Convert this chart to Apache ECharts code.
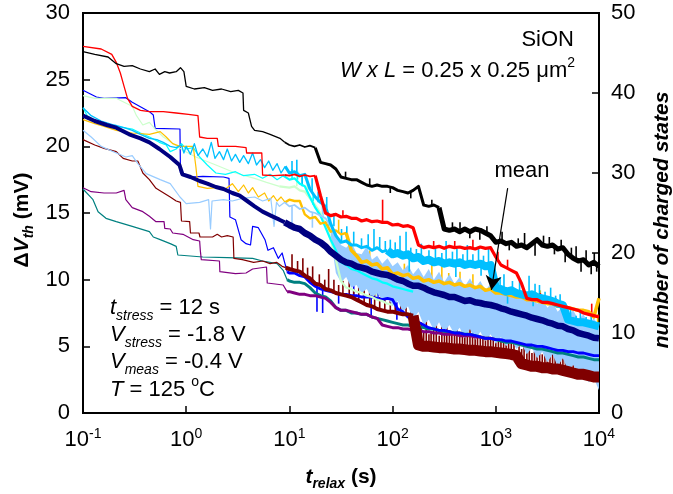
<!DOCTYPE html>
<html>
<head>
<meta charset="utf-8">
<script src="https://cdn.jsdelivr.net/npm/echarts@6/dist/echarts.min.js"></script>
<style>
html,body{margin:0;padding:0;background:#fff;}
#chart{width:673px;height:494px;}
</style>
</head>
<body>
<div id="chart"></div>
<script>
// Relaxation time samples (s) shared by the long-time part of every trace
const tGrid = [10,11.2,12.6,14.1,15.8,17.8,20,22.4,25.1,28.2,31.6,35.5,39.8,44.7,50.1,56.2,63.1,70.8,79.4,89.1,
  100,112,126,141,158,178,200,224,251,282,316,355,398,447,501,562,631,708,794,891,
  1000,1122,1259,1413,1585,1778,1995,2239,2512,2818,3162,3548,3981,4467,5012,5623,6310,7079,7943,8913,10000];

// Per-device ΔVth traces (mV): early part as [t, v] pairs, later level on tGrid,
// plus short telegraph-noise excursions as [t, from, to]
const blackEarly = [[0.1,27.1],[0.13,26.9],[0.175,26.7],[0.21,26.2],[0.25,26.0],[0.3,26.05],[0.36,25.8],[0.44,25.6],[0.5,25.8],[0.55,25.4],[0.62,25.6],[0.69,25.5],[0.8,25.6],[0.88,25.9],[0.95,25.6],[1.0,24.5],[1.2,24.3],[1.5,24.4],[1.8,24.2],[2.2,24.3],[2.7,24.1],[3.2,24.2],[3.55,24.0],[3.6,22.7],[4.0,22.5],[4.3,21.5],[4.6,21.2],[5.5,21.1],[6.5,20.9],[8.1,20.6],[9,20.3]];
const blackLate = [20.1,20.0,20.1,19.95,20.05,19.9,18.8,18.7,18.6,18.3,17.7,17.6,17.5,17.5,17.3,17.1,17.0,17.1,17.0,17.0,
  16.9,16.7,16.6,16.5,16.7,17.0,15.6,15.5,15.6,15.4,13.8,13.7,13.8,13.6,13.8,13.6,13.8,13.7,13.5,13.3,
  12.8,12.9,12.7,12.8,12.5,12.6,12.4,12.7,13.0,12.6,12.5,12.6,12.3,12.4,11.9,11.6,11.4,11.5,11.1,11.3,11.0];
const blackSpikes = [[35,17.6,18.1],[60,17.0,17.6],[95,17.0,16.5],[150,16.6,16.1],[240,15.5,16.0],[380,13.7,14.3],[450,13.7,14.3],[560,13.6,13.1],[700,13.7,13.0],[820,13.4,14.0],
  [1150,12.9,13.6],[1350,12.8,12.2],[1650,12.5,13.1],[1900,12.4,13.5],[2400,12.7,11.8],[2900,12.6,13.3],[3300,12.6,13.2],[3700,12.5,11.9],[4300,12.4,13.0],[4700,12.0,11.3],
  [5400,11.7,12.4],[6000,11.5,12.5],[6700,11.4,10.6],[7500,11.4,12.2],[8400,11.1,10.4],[9000,11.3,12.0],[9500,11.2,10.6]];

const redEarly = [[0.1,27.5],[0.15,27.3],[0.19,26.9],[0.21,26.3],[0.23,25.5],[0.25,24.5],[0.27,23.6],[0.3,23.0],[0.36,22.7],[0.44,22.6],[0.6,22.6],[0.8,22.5],[1.05,22.4],[1.3,22.3],[1.35,20.7],[1.6,20.6],[2.0,20.6],[2.05,20.0],[3.0,20.0],[3.8,19.9],[3.85,19.5],[5.4,19.5],[5.5,17.85],[7,17.8],[9,17.85]];
const redLate = [17.8,17.9,17.75,17.85,17.75,17.8,16.3,15.0,14.8,14.9,14.7,14.75,14.6,14.6,14.4,14.5,14.35,14.4,14.3,14.3,
  14.1,14.15,14.0,14.05,13.9,12.6,12.4,12.5,12.4,12.5,12.35,12.5,12.4,12.45,12.35,12.4,12.3,12.45,12.35,12.4,
  11.7,11.1,10.9,10.7,10.5,9.7,8.6,8.5,8.5,8.3,8.3,8.2,8.1,8.0,7.9,7.8,7.7,7.5,7.4,7.3,7.2];
const redSpikes = [[33,14.7,15.2],[80,14.3,16.0],[250,12.4,12.9],[400,12.4,12.9],[600,12.3,13.0],[1050,11.5,12.1],[1300,10.9,11.5],[2700,8.4,9.0],[3800,8.1,8.6],[8500,7.4,8.2]];

const skyEarly = [[0.1,22.9],[0.12,22.3],[0.15,21.9],[0.2,21.6],[0.25,21.4],[0.3,21.2],[0.36,20.9],[0.44,20.6],[0.52,20.5],[0.6,20.3],[0.7,20.0],[0.8,19.9],[0.9,20.1],[0.95,19.5],[1.0,20.0],[1.1,19.4],[1.2,20.2],[1.3,19.3],[1.45,19.8],[1.6,19.2],[1.75,20.3],[1.9,19.1],[2.1,19.6],[2.3,19.0],[2.5,19.8],[2.75,18.9],[3.0,19.4],[3.3,18.8],[3.6,19.3],[4.0,18.7],[4.4,19.5],[4.8,18.6],[5.25,19.0],[5.75,18.4],[6.3,18.9],[6.9,18.2],[7.6,18.7],[8.3,18.0],[9.1,18.5]];
const skyLate = [18.0,18.1,17.8,17.9,16.8,16.2,15.8,15.5,14.2,13.3,12.8,12.9,12.6,12.6,12.4,12.5,12.2,12.4,12.1,12.2,
  11.9,12.0,11.8,11.9,11.6,11.7,11.4,11.5,11.3,11.4,11.2,11.3,11.2,11.3,11.1,11.2,11.1,11.2,11.0,11.1,
  9.4,9.3,9.1,9.2,9.0,8.9,8.8,8.9,8.7,8.6,8.5,8.4,8.2,8.1,7.0,6.9,6.8,6.8,6.7,6.6,6.5];
const skySpikes = [[10.6,18.0,18.9],[11.8,18.0,19.0],[13.3,17.9,17.0],[16.6,16.5,17.6],[19,15.8,16.6],[23,15.4,16.2],[27,14.0,15.0],[32,12.8,13.8],[36,12.9,14.0],[42,12.6,13.6],
  [50,12.4,13.1],[58,12.5,13.4],[66,12.3,13.8],[75,12.3,13.2],[85,12.2,12.9],[95,12.0,13.0],[106,12.0,12.8],[118,11.9,13.3],[135,11.9,13.6],[145,11.6,10.6],[150,11.6,12.4],
  [170,11.7,12.3],[190,11.5,12.7],[225,11.4,12.2],[260,11.3,12.4],[300,11.3,12.0],[330,11.2,12.9],[380,11.2,12.1],[410,11.1,10.2],[420,11.2,12.3],[480,11.1,11.9],[530,11.2,12.6],
  [600,11.1,11.9],[680,11.1,12.5],[720,11.0,10.3],[760,11.0,11.8],[850,11.0,12.3],[1100,9.3,10.2],[1200,9.2,10.4],[1300,9.1,8.2],[1450,9.1,9.9],[1700,8.9,10.0],[2100,8.8,10.3],[2300,8.8,8.0],[2400,8.9,9.7],
  [2650,8.7,9.6],[3000,8.5,9.1],[3400,8.4,9.4],[3800,8.2,8.8],[4200,8.1,8.9],[5300,6.9,7.8],[6000,6.8,7.3],[6600,6.8,7.6],[7500,6.7,7.2],[8400,6.6,7.4]];

const aquaEarly = [[0.1,22.9],[0.11,22.3],[0.13,21.9],[0.16,21.7],[0.21,21.5],[0.3,21.3],[0.36,21.0],[0.44,20.7],[0.55,20.3],[0.64,20.1],[0.7,19.6],[0.8,19.8],[0.9,20.2],[1.0,19.8],[1.17,19.9],[1.35,19.2],[1.6,18.6],[1.94,18.0],[2.4,17.9],[3.0,18.1],[3.6,17.8],[4.6,17.9],[5.5,17.6],[6.5,17.9],[7.6,17.5],[8.7,17.8]];
const aquaLate = [17.5,17.6,17.2,17.0,16.2,15.4,14.8,13.9,13.0,12.2,11.3,11.1,10.8,10.7,10.5,10.3,10.1,10.0,9.8,9.7,9.5,9.4,9.3,9.2,9.1];
const aquaSpikes = [[10.6,17.5,18.3],[12.0,17.5,18.1],[13.3,17.1,17.8],[17,15.6,16.4],[21,14.5,15.6],[24,13.6,14.8],[30,11.7,13.0],[38,10.9,12.0],[55,10.4,11.4]];

const greenEarly = [[0.1,23.8],[0.13,23.6],[0.21,23.6],[0.25,23.3],[0.3,23.0],[0.33,22.3],[0.38,21.6],[0.44,21.8],[0.5,21.3],[0.6,20.7],[0.75,20.2],[0.93,19.7],[1.24,19.2],[1.94,18.6],[3.0,18.0],[4.6,17.6],[6,17.3],[8,17.0]];
const greenLate = [16.9,17.0,16.7,16.6,16.1,15.6,15.0,14.2,13.0,11.5,9.9,9.4,9.3,9.1,9.0,8.8,8.7,8.5,8.4,8.2,8.1];
const greenSpikes = [[11.8,17.0,17.8],[14.9,16.3,17.3],[33,9.9,10.8],[48,9.1,10.0],[70,8.5,9.4]];

const goldEarly = [[0.1,22.0],[0.13,21.7],[0.16,21.5],[0.21,21.2],[0.3,21.0],[0.44,20.9],[0.56,21.1],[0.64,20.7],[0.74,20.2],[0.87,20.0],[1.17,20.0],[1.24,18.5],[1.3,17.0],[1.6,16.85],[2.0,16.9],[2.4,16.8],[2.8,17.2],[3.2,16.6],[3.6,17.1],[4.0,16.5],[4.4,16.9],[5,16.2],[5.75,16.5],[6.3,15.9],[7,16.3],[7.6,15.9],[8.3,16.2],[9.1,15.8]];
const goldLate = [16.0,15.9,15.9,14.9,14.6,14.7,14.2,14.3,13.6,13.7,13.4,13.5,12.2,11.8,11.3,11.4,11.1,11.2,10.8,10.9,
  10.4,10.5,10.3,10.4,10.1,10.2,9.9,10.0,9.8,9.9,9.7,9.8,9.6,9.7,9.5,9.6,9.4,9.5,9.2,9.3,
  9.0,9.0,8.9,8.8,8.7,8.7,8.5,8.5,8.4,8.3,8.2,8.2,8.0,8.0,7.9,7.8,7.7,7.7,7.6,7.2,8.6];
const goldSpikes = [[30,13.5,14.5],[60,11.3,12.2],[130,10.3,11.2],[240,9.9,11.1],[300,9.9,11.0],[350,9.8,10.5],[450,9.7,10.6],[600,9.5,10.4],[2700,8.4,9.2],[9700,7.4,6.5]];

const paleEarly = [[0.1,21.2],[0.12,20.7],[0.15,20.0],[0.21,19.5],[0.26,19.2],[0.3,19.3],[0.34,18.7],[0.41,17.95],[0.56,17.5],[0.7,17.2],[0.87,16.2],[1.0,15.7],[1.35,15.8],[1.65,16.0],[1.72,13.8],[1.78,15.9],[2.3,16.0],[2.8,15.9],[3.5,16.1],[4.6,16.2],[5.5,15.9],[6.6,16.1],[7.1,14.0],[7.5,15.8],[8.0,15.5],[9.0,15.8]];
const paleLate = [15.5,15.6,15.3,15.4,15.1,15.0,14.8,14.6,14.0];
const paleSpikes = [[10.6,15.5,14.2],[16.7,15.0,13.9],[21,14.8,15.6]];
// upper / lower envelope of the same device from tGrid[8] on
const paleHi = [14.2,13.6,12.6,12.4,12.8,12.0,11.9,12.5,11.5,11.8,11.2,11.6,11.0,11.3,10.7,11.1,10.4,10.9,10.2,10.8,
  10.0,10.6,9.8,10.4,9.7,10.2,9.5,10.1,9.4,9.9,9.2,9.7,9.0,9.5,8.8,9.3,8.6,9.0,8.4,8.8,
  8.2,8.6,7.9,8.3,7.6,8.0,7.3,7.7,7.0,7.4,6.7,7.1,6.5];
const paleLo = [13.2,10.5,9.8,10.2,9.4,9.6,9.0,9.3,8.6,9.0,8.5,8.7,8.0,8.4,7.6,8.0,7.0,7.6,6.6,7.0,
  6.2,6.8,6.0,6.6,5.9,6.4,5.6,6.3,5.5,6.1,5.4,5.9,5.2,5.7,5.0,5.5,4.8,5.2,4.4,4.9,
  4.1,4.6,3.8,4.4,3.5,4.1,3.2,3.6,2.9,3.2,2.3,2.6,1.7];
const paleBandStart = 8;

const maroonEarly = [[0.1,20.5],[0.13,20.1],[0.16,19.85],[0.21,19.6],[0.245,19.1],[0.3,18.9],[0.34,18.9],[0.38,18.0],[0.44,17.5],[0.51,16.85],[0.7,16.2],[0.8,15.9],[0.88,15.8],[0.9,14.4],[1.08,14.35],[1.1,13.5],[1.33,13.5],[1.36,13.2],[1.8,13.2],[2.0,13.4],[2.2,13.2],[2.5,13.3],[2.85,13.2],[2.9,11.6],[3.5,11.5],[4.5,11.3],[5.5,11.4],[6.5,11.2],[7.5,11.3],[8.5,11.0],[9.2,10.9]];
const maroonLate = [10.8,10.7,10.6,10.3,10.1,9.7,9.6,9.3,9.2,9.0,8.9,8.8,8.7,8.5,8.3,8.1,8.0,7.8,7.7,7.6,
  7.6,7.5,7.4,7.4,7.3,5.1,5.0,5.0,4.95,4.9,4.9,4.85,4.8,4.8,4.75,4.7,4.7,4.65,4.6,4.6,
  4.55,4.5,4.45,4.4,4.3,3.7,3.6,3.5,3.5,3.4,3.4,3.3,3.3,3.2,3.1,3.0,2.9,2.9,2.8,2.7,2.7];
const maroonSpikes = [[10.6,10.8,11.9],[12,10.7,11.4],[13.5,10.4,11.6],[15,10.2,10.9],[16.8,10.0,11.0],[19.5,9.6,10.4],[22,9.4,10.0],[24,9.2,10.8],[27,9.1,10.0],[30,9.0,9.6],
  [33,8.9,9.9],[38,8.8,10.2],[42,8.6,9.3],[47,8.5,9.6],[53,8.3,9.3],[60,8.1,9.5],[67,8.0,9.0],[75,7.8,8.7],[84,7.7,9.0],[95,7.6,8.4],[106,7.5,8.8],[120,7.4,8.3],[135,7.4,8.0],[150,7.3,8.5],[165,7.3,7.9],
  [190,5.2,6.8],[200,5.0,6.0],[212,5.0,7.2],[225,5.0,5.9],[236,5.0,6.1],[250,4.9,6.4],[265,4.9,7.0],[283,4.9,5.8],[300,4.9,6.5],[318,4.8,6.0],
  [335,4.8,7.2],[355,4.8,6.2],[375,4.8,5.9],[398,4.7,6.4],[420,4.7,6.8],[447,4.7,5.8],[475,4.7,6.2],[501,4.6,6.0],[530,4.6,7.1],[562,4.6,6.3],
  [595,4.6,6.0],[631,4.5,5.9],[665,4.5,6.6],[708,4.5,5.7],[750,4.5,5.8],[794,4.4,6.4],[840,4.4,6.5],[891,4.4,5.6],[945,4.4,5.7],[1000,4.4,6.0],
  [1060,4.3,6.3],[1122,4.3,5.4],[1190,4.3,5.5],[1259,4.3,5.8],[1330,4.2,6.8],[1413,4.2,5.5],[1500,4.1,5.6],[1680,3.6,5.0],[1780,3.5,4.8],[1880,3.5,6.0],
  [2000,3.5,4.6],[2110,3.4,5.3],[2240,3.4,4.5],[2370,3.4,4.6],[2510,3.3,5.2],[2660,3.3,5.9],[2820,3.3,4.4],[2990,3.3,4.8],[3160,3.2,4.2],[3350,3.2,4.3],
  [3550,3.2,5.0],[3760,3.1,6.0],[3980,3.1,4.1],[4220,3.0,4.4],[4470,3.0,4.7],[4730,3.0,4.0],[5010,2.9,4.5],[5310,2.9,5.4],[5620,2.8,3.8],[5950,2.8,3.9],
  [6310,2.8,4.8],[6680,2.8,4.6],[7080,2.7,3.7],[7500,2.7,3.6],[7940,2.7,4.5],[8400,2.6,4.2],[8910,2.6,3.7],[9400,2.6,3.4]];

const blueEarly = [[0.1,24.2],[0.135,23.7],[0.16,23.6],[0.26,23.65],[0.3,23.3],[0.44,22.6],[0.48,22.35],[0.5,21.35],[0.87,21.3],[0.88,18.0],[1.1,17.7],[1.45,17.75],[2.3,17.7],[2.6,17.6],[2.65,14.7],[3.0,14.5],[3.4,13.0],[3.8,12.7],[4.2,12.6],[4.4,14.0],[5.0,13.9],[5.8,13.0],[6.2,12.2],[7.0,12.4],[7.8,11.6],[8.5,12.0],[9.5,10.6]];
const blueLate = [10.5,10.5,10.3,10.2,9.8,9.5,9.3,9.2,9.1,9.0,8.9,8.9,8.8,8.8,8.7,8.7,8.7,8.6,8.5,8.6,
  8.5,7.8,7.6,7.2,7.0,6.8,6.6,6.4,6.3,6.2,6.2,6.1,6.0,6.0,5.9,5.9,5.8,5.7,5.6,5.6,
  5.5,5.5,5.4,5.4,5.3,5.2,5.1,5.1,5.0,5.0,4.9,4.8,4.7,4.7,4.6,4.6,4.5,4.5,4.4,4.3,4.3];
const blueSpikes = [[18.5,9.4,7.6],[21,9.3,7.5],[30,9.0,8.2],[42,8.8,9.6],[62,8.7,7.2],[72,8.6,9.4],[110,8.3,7.0]];

const purpleEarly = [[0.1,16.9],[0.12,16.6],[0.16,16.5],[0.21,16.5],[0.25,16.7],[0.26,16.0],[0.3,15.4],[0.38,15.1],[0.44,14.75],[0.51,14.35],[0.61,14.35],[0.62,13.85],[0.7,13.8],[0.74,13.5],[0.93,13.4],[1.17,13.0],[1.35,12.9],[1.37,12.2],[1.4,11.5],[2.1,11.4],[2.12,10.6],[3.0,10.45],[3.8,10.5],[4.4,10.8],[6.0,10.95],[6.1,9.75],[8.7,9.6],[9.5,9.1]];
const purpleLate = [9.1,9.0,8.9,8.9,8.8,8.8,8.7,8.6,8.3,7.9,7.7,7.7,7.6,7.5,7.4,7.4,7.2,7.1,6.6,6.5,
  6.4,6.4,6.3,6.3,6.2,6.2,6.1,6.1,6.0,6.0,5.9,5.9,5.9,5.8,5.8,5.8,5.7,5.7,5.6,5.6,5.5];

const tealEarly = [[0.1,16.8],[0.115,16.3],[0.125,16.0],[0.14,15.1],[0.167,14.6],[0.21,14.35],[0.3,14.0],[0.44,13.6],[0.48,13.2],[0.56,13.0],[0.7,12.7],[0.8,12.5],[0.83,11.85],[1.45,11.7],[2.5,11.65],[4.4,11.6],[5.5,11.4],[7.6,11.2],[8.7,10.7],[9.5,10.0]];
const tealLate = [9.9,9.8,9.8,9.7,9.4,9.0,8.8,8.7,8.4,7.9,7.7,7.7,7.5,7.5,7.4,7.4,7.2,7.1,7.0,6.9,
  6.8,6.7,6.6,6.6,6.5,6.5,6.4,6.3,6.3,6.2,6.1,6.1,6.0,6.0,5.9,5.9,5.8,5.7,5.6,5.6,
  5.5,5.4,5.3,5.3,5.2,5.1,5.0,4.9,4.8,4.8,4.7,4.6,4.5,4.5,4.4,4.3,4.2,4.2,4.1,4.0,4.0];

// Mean over all devices
const meanEarly = [[0.1,22.3],[0.13,21.9],[0.17,21.6],[0.21,21.4],[0.28,20.9],[0.36,20.6],[0.44,20.3],[0.55,19.8],[0.7,19.2],[0.86,18.6],[0.92,17.9],[1.1,17.7],[1.35,17.4],[1.6,17.2],[1.94,16.95],[2.3,16.8],[2.8,16.5],[3.3,16.3],[3.9,15.9],[4.6,15.5],[5.5,15.1],[6.6,14.8],[8,14.5],[9,14.3]];
const meanLate = [14.1,13.9,13.8,13.5,13.3,13.0,12.8,12.5,12.1,11.8,11.5,11.3,11.2,11.0,10.9,10.8,10.6,10.5,10.4,10.35,
  10.2,10.0,9.9,9.7,9.55,9.55,9.4,9.2,9.05,8.95,8.85,8.7,8.7,8.55,8.4,8.45,8.3,8.25,8.15,8.1,
  8.0,7.85,7.75,7.6,7.5,7.4,7.3,7.15,7.05,6.95,6.8,6.7,6.55,6.5,6.3,6.2,6.0,5.9,5.8,5.65,5.6];

// Annotation arrow for the mean curve: [t, mV] start and end
const meanArrow = [[1303, 16.86], [906, 9.23]];

const FONT = '"Liberation Sans", Arial, Helvetica, sans-serif';

function onGrid(values, start) {
  return values.map((v, i) => [tGrid[start + i], v]);
}
function lineSeries(name, color, data, width) {
  return {
    name: name, type: 'line', data: data, yAxisIndex: 0,
    showSymbol: false, symbol: 'none', silent: true, animation: false,
    emphasis: { disabled: true },
    lineStyle: { color: color, width: width, join: 'round' },
    itemStyle: { color: color }
  };
}
// consecutive stretches of one trace, each with its own stroke weight
function pieces(name, color, parts) {
  const out = [];
  let prev = null;
  parts.forEach((p, k) => {
    out.push(lineSeries(name + k, color, prev ? [prev].concat(p[0]) : p[0], p[1]));
    prev = p[0][p[0].length - 1];
  });
  return out;
}
// short vertical excursions of a trace
function spikeSeries(name, color, spikes, width) {
  return {
    name: name, type: 'custom', coordinateSystem: 'cartesian2d', data: spikes,
    encode: { x: 0, y: [1, 2] }, silent: true, animation: false,
    renderItem: function (params, api) {
      const a = api.coord([api.value(0), api.value(1)]);
      const b = api.coord([api.value(0), api.value(2)]);
      return { type: 'line', shape: { x1: a[0], y1: a[1], x2: b[0], y2: b[1] }, style: { stroke: color, lineWidth: width } };
    }
  };
}

const paleBand = paleHi.map((h, i) => [tGrid[paleBandStart + i], paleLo[i], h]);

const meanParts = pieces('mean', '#000080', [[meanEarly, 4], [onGrid(meanLate, 0), 6.5]]);
meanParts[1].markLine = {
  silent: true, animation: false,
  symbol: ['none', 'arrow'], symbolSize: [12, 14],
  label: { show: false },
  lineStyle: { color: '#000', width: 1.2, type: 'solid' },
  data: [[{ coord: meanArrow[0] }, { coord: meanArrow[1] }]]
};

const series = [].concat(
  pieces('teal', '#008080', [[tealEarly, 1.2], [onGrid(tealLate, 0), 3]]),
  pieces('purple', '#800080', [[purpleEarly, 1.2], [onGrid(purpleLate, 0), 3]]),
  pieces('blue', '#0000ff', [[blueEarly, 1.2], [onGrid(blueLate, 0), 2.8]]),
  spikeSeries('blueSpk', '#0000ff', blueSpikes, 1.6),
  pieces('maroon', '#800000', [[maroonEarly, 1.2], [onGrid(maroonLate.slice(0, 25), 0), 4], [onGrid(maroonLate.slice(25), 25), 11]]),
  spikeSeries('maroonSpk', '#800000', maroonSpikes, 1.6),
  pieces('green', '#ccffcc', [[greenEarly, 1.2], [onGrid(greenLate, 0), 2.2]]),
  spikeSeries('greenSpk', '#ccffcc', greenSpikes, 1.6),
  pieces('aqua', '#00ffff', [[aquaEarly, 1.2], [onGrid(aquaLate, 0), 2.2]]),
  spikeSeries('aquaSpk', '#00ffff', aquaSpikes, 1.6),
  pieces('gold', '#ffc000', [[goldEarly, 1.2], [onGrid(goldLate.slice(0, 12), 0), 2.4], [onGrid(goldLate.slice(12), 12), 3.5]]),
  spikeSeries('goldSpk', '#ffc000', goldSpikes, 1.6),
  pieces('pale', '#99ccff', [[paleEarly, 1.2], [onGrid(paleLate, 0), 1.8]]),
  spikeSeries('paleSpk', '#99ccff', paleSpikes, 1.6),
  [{
    name: 'paleBand', type: 'custom', coordinateSystem: 'cartesian2d',
    data: paleBand, encode: { x: 0, y: [1, 2] }, silent: true, animation: false,
    renderItem: function (params, api) {
      if (params.dataIndex !== 0) return null;
      const pts = [];
      for (let i = 0; i < paleBand.length; i++) pts.push(api.coord([paleBand[i][0], paleBand[i][2]]));
      for (let i = paleBand.length - 1; i >= 0; i--) pts.push(api.coord([paleBand[i][0], paleBand[i][1]]));
      return { type: 'polygon', shape: { points: pts }, style: { fill: '#99ccff' } };
    }
  }],
  pieces('sky', '#00bfff', [[skyEarly, 1.3], [onGrid(skyLate.slice(0, 20), 0), 3], [onGrid(skyLate.slice(20), 20), 8]]),
  spikeSeries('skySpk', '#00bfff', skySpikes, 1.6),
  pieces('red', '#ff0000', [[redEarly, 1.3], [onGrid(redLate.slice(0, 6), 0), 1.8], [onGrid(redLate.slice(6), 6), 3.2]]),
  spikeSeries('redSpk', '#ff0000', redSpikes, 1.6),
  pieces('black', '#000000', [[blackEarly, 1.3], [onGrid(blackLate.slice(0, 6), 0), 1.8], [onGrid(blackLate.slice(6, 30), 6), 3], [onGrid(blackLate.slice(30), 30), 5]]),
  spikeSeries('blackSpk', '#000000', blackSpikes, 1.6),
  meanParts
);

const txt = {
  i: { fontStyle: 'italic', fontSize: 22, lineHeight: 30, fontFamily: FONT },
  n: { fontSize: 22, lineHeight: 30, fontFamily: FONT },
  sub: { fontStyle: 'italic', fontSize: 14, lineHeight: 10, verticalAlign: 'bottom', fontFamily: FONT },
  sup: { fontSize: 14, lineHeight: 22, verticalAlign: 'top', fontFamily: FONT },
  sq: { fontSize: 14, lineHeight: 27, verticalAlign: 'top', fontFamily: FONT }
};
const ttl = {
  b: { fontWeight: 'bold', fontSize: 21, lineHeight: 28, fontFamily: FONT },
  bi: { fontWeight: 'bold', fontStyle: 'italic', fontSize: 21, lineHeight: 28, fontFamily: FONT },
  bs: { fontWeight: 'bold', fontStyle: 'italic', fontSize: 14, lineHeight: 8, verticalAlign: 'bottom', fontFamily: FONT }
};
function label(x, y, text, rich, align, rotation) {
  return {
    type: 'text', x: x, y: y, rotation: rotation || 0, z: 100, silent: true,
    style: {
      text: text, rich: rich, fill: '#000', fontSize: 22, fontFamily: FONT,
      align: align || 'left', verticalAlign: 'middle',
      textAlign: align || 'left', textVerticalAlign: 'middle'
    }
  };
}

const chart = echarts.init(document.getElementById('chart'), null, { renderer: 'canvas' });
chart.setOption({
  animation: false,
  backgroundColor: '#fff',
  textStyle: { fontFamily: FONT, color: '#000' },
  grid: { left: 83, right: 74, top: 13, bottom: 81, show: true, borderColor: '#000', borderWidth: 2, containLabel: false },
  xAxis: {
    type: 'log', logBase: 10, min: 0.1, max: 10000,
    axisLine: { show: true, lineStyle: { color: '#000', width: 2 } },
    axisTick: { show: true, inside: true, length: 7, lineStyle: { color: '#000', width: 1.5 } },
    minorTick: { show: false },
    splitLine: { show: false },
    axisLabel: {
      margin: 14, showMinLabel: true, showMaxLabel: true, color: '#000',
      formatter: function (v) { return '{b|10}{e|' + Math.round(Math.log10(v)) + '}'; },
      rich: {
        b: { fontSize: 22, lineHeight: 26, fontFamily: FONT, color: '#000' },
        e: { fontSize: 14, lineHeight: 18, verticalAlign: 'top', fontFamily: FONT, color: '#000' }
      }
    }
  },
  yAxis: [
    {
      type: 'value', min: 0, max: 30, interval: 5, position: 'left',
      axisLine: { show: true, lineStyle: { color: '#000', width: 2 } },
      axisTick: { show: true, inside: true, length: 7, lineStyle: { color: '#000', width: 1.5 } },
      splitLine: { show: false },
      axisLabel: { fontSize: 22, margin: 13, color: '#000', fontFamily: FONT, showMinLabel: true, showMaxLabel: true }
    },
    {
      type: 'value', min: 0, max: 50, interval: 10, position: 'right', alignTicks: false,
      axisLine: { show: true, lineStyle: { color: '#000', width: 2 } },
      axisTick: { show: true, inside: true, length: 7, lineStyle: { color: '#000', width: 1.5 } },
      splitLine: { show: false },
      axisLabel: { fontSize: 22, margin: 12, color: '#000', fontFamily: FONT, showMinLabel: true, showMaxLabel: true }
    }
  ],
  series: series,
  graphic: [
    label(574, 40, 'SiON', { n: txt.n }, 'right'),
    label(575, 71, '{i|W x L}{n| = 0.25 x 0.25 μm}{sq|2}', txt, 'right'),
    label(522, 171, 'mean', { n: txt.n }, 'center'),
    label(110, 308, '{i|t}{sub|stress}{n| = 12 s}', txt),
    label(110, 335, '{i|V}{sub|stress}{n| = -1.8 V}', txt),
    label(110, 362, '{i|V}{sub|meas}{n| = -0.4 V}', txt),
    label(110, 390, '{i|T}{n| = 125 }{sup|o}{n|C}', txt),
    label(341, 477, '{bi|t}{bs|relax}{b| (s)}', ttl, 'center'),
    label(22, 220, '{b|Δ}{bi|V}{bs|th}{b| (mV)}', ttl, 'center', Math.PI / 2),
    label(662, 220, '{bi|number of charged states}', ttl, 'center', Math.PI / 2)
  ]
});
</script>
</body>
</html>
